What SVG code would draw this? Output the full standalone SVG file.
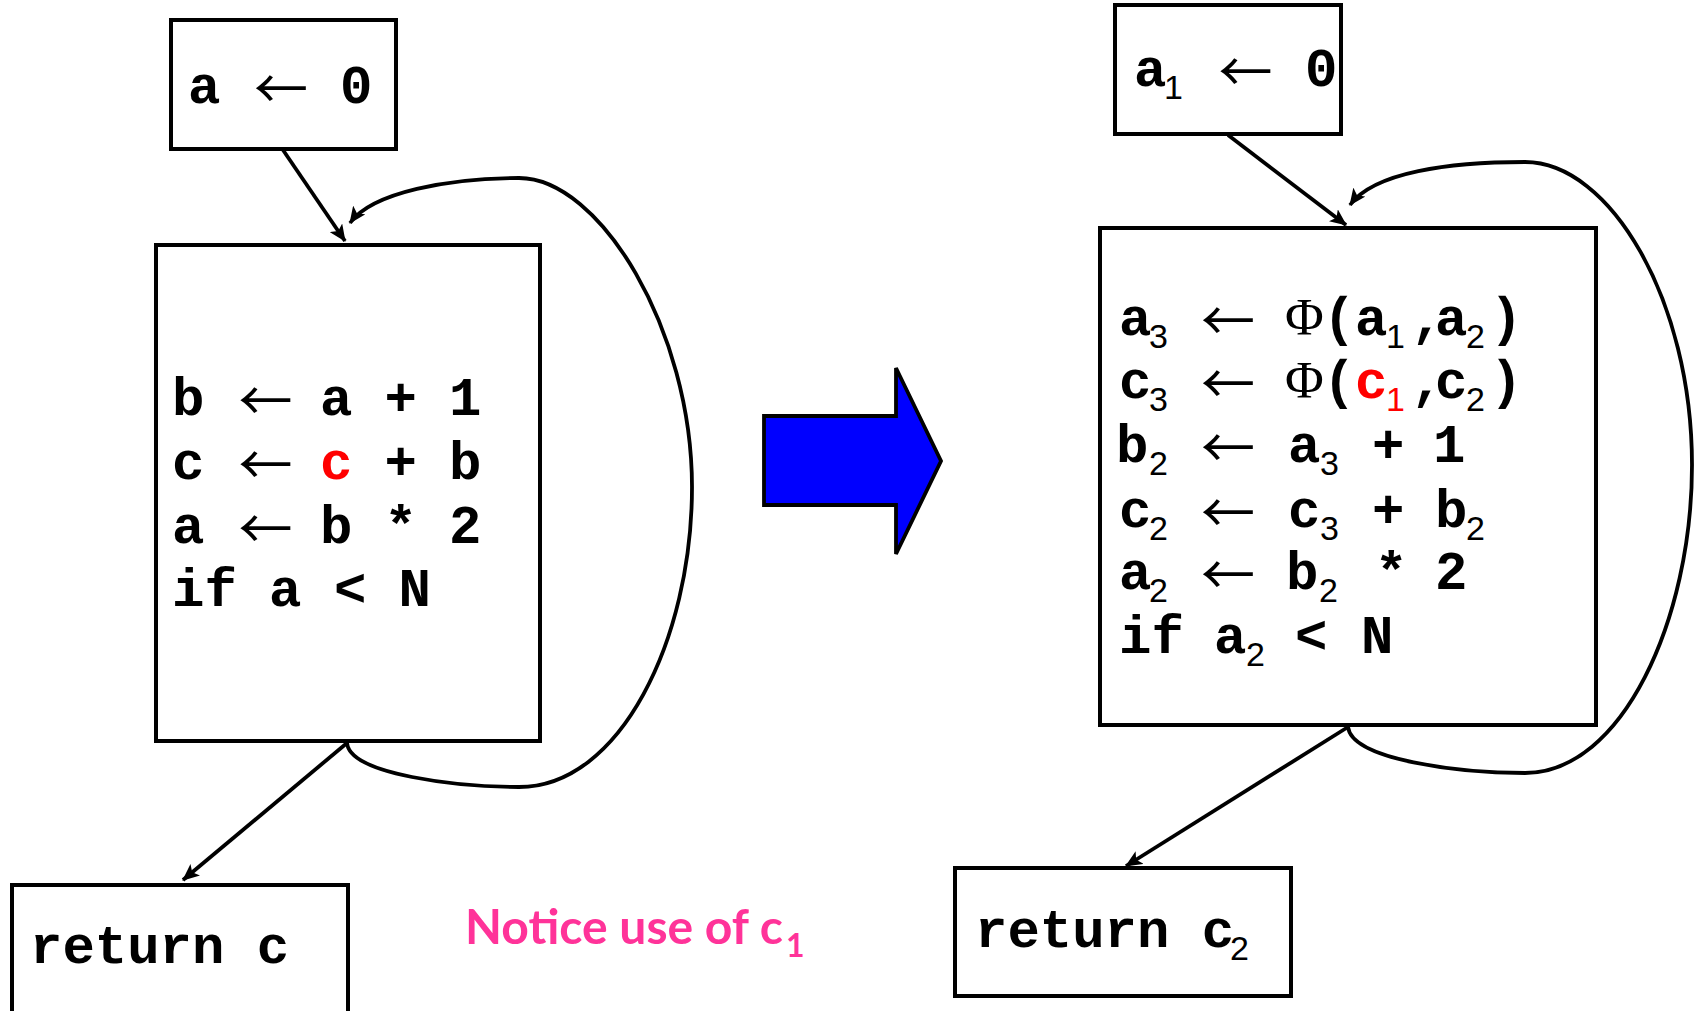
<svg xmlns="http://www.w3.org/2000/svg" width="1696" height="1011" viewBox="0 0 1696 1011">
<defs>
<style>
.box{fill:#fff;stroke:#000;stroke-width:4}
.c{font-family:"Liberation Mono","Courier New",monospace;font-weight:bold;font-size:54px;fill:#000}
.ar{font-family:"Noto Sans CJK JP","DejaVu Sans",sans-serif;font-size:54px;fill:#000;text-anchor:middle}
.sb{font-family:"Liberation Sans",Arial,sans-serif;font-size:34px;fill:#000}
.phi{font-family:"Liberation Serif","Times New Roman",serif;font-size:53px;fill:#000}
.red{fill:#FF0000}
.edge{fill:none;stroke:#000;stroke-width:3.8}
.note{font-family:Lato,"Liberation Sans",sans-serif;font-weight:bold;fill:#FF3399}
</style>
<marker id="ah" markerWidth="17" markerHeight="15" refX="16" refY="7.5" orient="auto" markerUnits="userSpaceOnUse">
<path d="M0,0 L17,7.5 L0,15 L4,7.5 Z" fill="#000"/>
</marker>
</defs>
<rect width="1696" height="1011" fill="#fff"/>

<g id="connectors">
<path class="edge" d="M283,150 L345,241" marker-end="url(#ah)"/>
<path class="edge" d="M347,743 L183,880" marker-end="url(#ah)"/>
<path class="edge" d="M347,743 C350,775 460,787 519,787 C620,787 692,640 692,487 C692,330 600,178 519,178 C450,178 372,192 350,223" marker-end="url(#ah)"/>
<path class="edge" d="M1228,135 L1346,225" marker-end="url(#ah)"/>
<path class="edge" d="M1348,727 L1126,866" marker-end="url(#ah)"/>
<path class="edge" d="M1348,727 C1352,760 1460,773 1525,773 C1622,773 1692,620 1692,465 C1692,300 1610,162 1525,162 C1450,162 1374,172 1350,205" marker-end="url(#ah)"/>
</g>

<g id="nodeA">
<rect class="box" x="171" y="20" width="225" height="129"/>
<text class="c" x="188" y="103">a</text>
<text class="ar" x="281" y="109">←</text>
<text class="c" x="340" y="103">0</text>
</g>

<g id="nodeB">
<rect class="box" x="156" y="245" width="384" height="496"/>
<text class="c" x="172" y="415">b</text><text class="ar" x="265.5" y="421">←</text><text class="c" x="320" y="415">a</text><text class="c" x="384.5" y="415">+</text><text class="c" x="449" y="415">1</text>
<text class="c" x="172" y="479">c</text><text class="ar" x="265.5" y="485">←</text><text class="c red" x="320" y="479">c</text><text class="c" x="384.5" y="479">+</text><text class="c" x="449" y="479">b</text>
<text class="c" x="172" y="543">a</text><text class="ar" x="265.5" y="549">←</text><text class="c" x="320" y="543">b</text><text class="c" x="384.5" y="543">*</text><text class="c" x="449" y="543">2</text>
<text class="c" x="172" y="606">if</text><text class="c" x="269" y="606">a</text><text class="c" x="334" y="606">&lt;</text><text class="c" x="398.6" y="606">N</text>
</g>

<g id="nodeC">
<rect class="box" x="12" y="885" width="336" height="140"/>
<text class="c" x="30" y="963">return c</text>
</g>

<text class="note" x="465" y="944" font-size="48" textLength="318" lengthAdjust="spacingAndGlyphs">Notice use of c</text>
<text class="note" x="786" y="957" font-size="32">1</text>

<g id="bigArrow">
<polygon points="764,416 896,416 896,368 941,461 896,554 896,505 764,505" fill="#0000FF" stroke="#000" stroke-width="3.8"/>
</g>

<g id="nodeD">
<rect class="box" x="1115" y="5" width="226" height="129"/>
<text class="c" x="1134" y="86">a</text><text class="sb" x="1164" y="99">1</text>
<text class="ar" x="1245.5" y="92">←</text>
<text class="c" x="1305" y="86">0</text>
</g>

<g id="nodeE">
<rect class="box" x="1100" y="228" width="496" height="497"/>
<text class="c" x="1119" y="335">a</text><text class="sb" x="1149" y="348">3</text><text class="ar" x="1228" y="341">←</text><text class="phi" x="1285" y="335">Φ</text><text class="c" x="1323" y="335">(</text><text class="c" x="1355" y="335">a</text><text class="sb" x="1386" y="348">1</text><text class="c" x="1411" y="335">,</text><text class="c" x="1435" y="335">a</text><text class="sb" x="1466" y="348">2</text><text class="c" x="1490" y="335">)</text>
<text class="c" x="1119" y="398">c</text><text class="sb" x="1149" y="411">3</text><text class="ar" x="1228" y="404">←</text><text class="phi" x="1285" y="398">Φ</text><text class="c" x="1323" y="398">(</text><text class="c red" x="1355" y="398">c</text><text class="sb red" x="1386" y="411">1</text><text class="c" x="1411" y="398">,</text><text class="c" x="1435" y="398">c</text><text class="sb" x="1466" y="411">2</text><text class="c" x="1490" y="398">)</text>
<text class="c" x="1116" y="462">b</text><text class="sb" x="1149" y="475">2</text><text class="ar" x="1228" y="468">←</text><text class="c" x="1288" y="462">a</text><text class="sb" x="1320" y="475">3</text><text class="c" x="1372" y="462">+</text><text class="c" x="1433" y="462">1</text>
<text class="c" x="1119" y="527">c</text><text class="sb" x="1149" y="540">2</text><text class="ar" x="1228" y="533">←</text><text class="c" x="1288" y="527">c</text><text class="sb" x="1320" y="540">3</text><text class="c" x="1372" y="527">+</text><text class="c" x="1435" y="527">b</text><text class="sb" x="1466" y="540">2</text>
<text class="c" x="1119" y="589">a</text><text class="sb" x="1149" y="602">2</text><text class="ar" x="1228" y="595">←</text><text class="c" x="1286" y="589">b</text><text class="sb" x="1319" y="602">2</text><text class="c" x="1375" y="589">*</text><text class="c" x="1435" y="589">2</text>
<text class="c" x="1119" y="653">if</text><text class="c" x="1214" y="653">a</text><text class="sb" x="1246" y="666">2</text><text class="c" x="1295" y="653">&lt;</text><text class="c" x="1361" y="653">N</text>
</g>

<g id="nodeF">
<rect class="box" x="955" y="868" width="336" height="128"/>
<text class="c" x="975" y="947">return c</text><text class="sb" x="1230" y="960">2</text>
</g>
</svg>
